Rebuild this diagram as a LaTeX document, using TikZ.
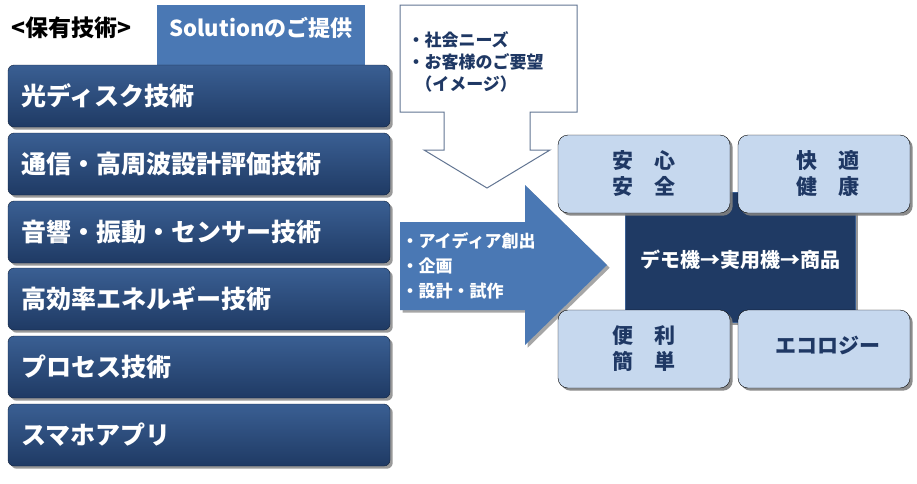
\documentclass[tikz,border=0pt]{standalone}
\usepackage{fontspec}
\setmainfont{Noto Sans CJK JP}
\usetikzlibrary{shadows,shapes.arrows}
\definecolor{navy}{HTML}{1F3A64}
\definecolor{navylight}{HTML}{3A5F93}
\definecolor{midblue}{HTML}{4A78B4}
\definecolor{paleblue}{HTML}{C6D8EE}
\definecolor{textblue}{HTML}{1F3864}
\begin{document}
\begin{tikzpicture}[x=1pt,y=-1pt,font=\bfseries]
  \tikzset{techbar/.style={rounded corners=6pt,top color=navylight,bottom color=navy,
                           draw=navy!60!black,drop shadow={opacity=0.8}},
           techtext/.style={anchor=west,text=white,font=\bfseries\fontsize{25}{28}\selectfont},
           goalbox/.style={rounded corners=10pt,fill=paleblue,drop shadow={opacity=0.9}},
           goaltext/.style={text=textblue,align=center,font=\bfseries\fontsize{21}{26}\selectfont}}
  \useasboundingbox (0,0) rectangle (917,483);

  \node[anchor=west,font=\bfseries\fontsize{23}{26}\selectfont] (own) at (8,28) {<保有技術>};
  \fill[midblue] (157,5) rectangle (365,65);
  \node[text=white,font=\bfseries\fontsize{22}{26}\selectfont] (sol) at (261,28) {Solutionのご提供};

  % technology bars
  \foreach \y/\t [count=\i] in {96/光ディスク技術,164/通信・高周波設計評価技術,232/音響・振動・センサー技術,
                                299/高効率エネルギー技術,367/プロセス技術,435/スマホアプリ}{
    \draw[techbar] (8,\y-31) rectangle (390,\y+31);
    \node[techtext] (t\i) at (18,\y) {\t};
  }

  % callout
  \draw[fill=white,draw=navy!70,line width=1pt] (400,5) -- (577,5) -- (577,112) -- (530,112)
     -- (530,150) -- (550,150) -- (487,188) -- (424,150) -- (444,150) -- (444,112) -- (400,112) -- cycle;
  \node[anchor=north west,text=textblue,align=left,font=\bfseries\fontsize{17}{22}\selectfont] (needs)
     at (404,28) {・社会ニーズ\\・お客様のご要望\\\ \ （イメージ）};

  % arrow
  \fill[midblue,drop shadow={opacity=0.7}] (400,222) -- (525,222) -- (525,185) -- (607,265)
     -- (525,345) -- (525,310) -- (400,310) -- cycle;
  \node[anchor=west,text=white,align=left,font=\bfseries\fontsize{17}{25}\selectfont] (idea)
     at (398,266) {・アイディア創出\\・企画\\・設計・試作};

  % goals
  \draw[fill=navy,draw=navylight,drop shadow={opacity=0.8}] (625,192) rectangle (855,322);
  \node[text=white,font=\bfseries\fontsize{20}{24}\selectfont] (demo) at (740,260) {デモ機→実用機→商品};
  \draw[goalbox] (558,135) rectangle (730,213);
  \node[goaltext] (safe) at (644,174) {安　心\\安　全};
  \draw[goalbox] (738,135) rectangle (910,213);
  \node[goaltext] (comf) at (828,174) {快　適\\健　康};
  \draw[goalbox] (558,310) rectangle (730,388);
  \node[goaltext] (easy) at (644,349) {便　利\\簡　単};
  \draw[goalbox] (738,310) rectangle (910,388);
  \node[goaltext] (eco) at (828,345) {エコロジー};
\end{tikzpicture}
\end{document}
